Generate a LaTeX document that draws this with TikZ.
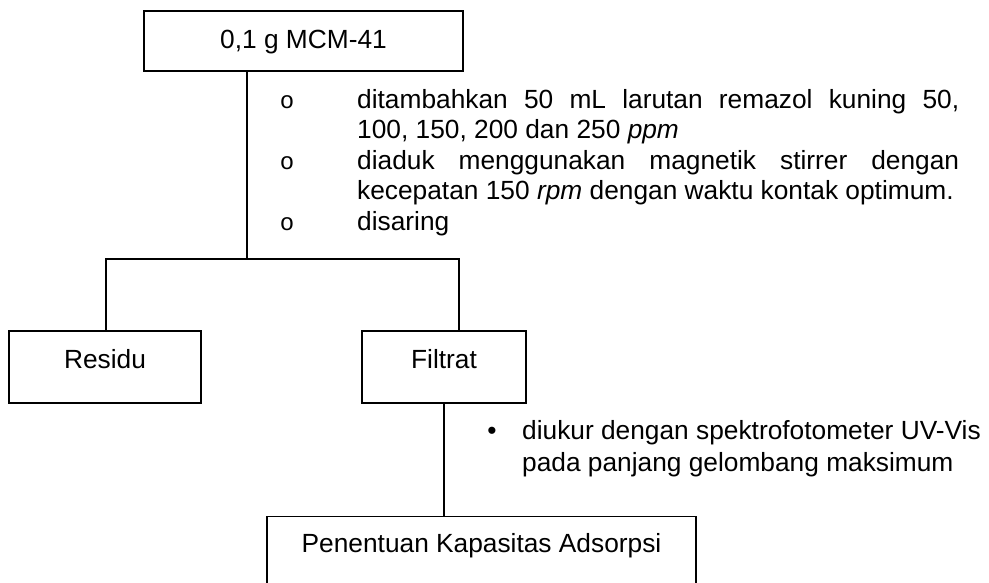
\documentclass[tikz,border=0pt]{standalone}
\usepackage{fontspec}
\setmainfont{Liberation Sans}
\setmonofont{Liberation Mono}
\begin{document}
\begin{tikzpicture}[x=1pt,y=-1pt,
  txt/.style={font=\fontsize{26.3}{30.5}\selectfont, inner sep=0pt},
  box/.style={draw, line width=1.3pt, inner sep=0pt},
  conn/.style={line width=1.3pt},
  item/.style={txt, anchor=north west, text width=602pt, align=justify},
  bul/.style={font=\ttfamily\fontsize{24}{24}\selectfont, inner sep=0pt, anchor=base}]
\clip (0,0) rectangle (989,582);
% boxes
\node[box, line width=1.8pt, minimum width=319pt, minimum height=60pt] (top) at (303.5,41) {};
\node[txt, anchor=base] (toplab) at (303.5,48.5) {0,1 g MCM-41};
\node[box, minimum width=192pt, minimum height=72pt] (res) at (105,367) {};
\node[txt, anchor=base] (reslab) at (105,368) {Residu};
\node[box, minimum width=164pt, minimum height=72pt] (fil) at (444,367) {};
\node[txt, anchor=base] (fillab) at (444,368) {Filtrat};
\node[box, minimum width=429pt, minimum height=90pt, anchor=north] (bot) at (481.5,516) {};
\node[txt, anchor=base] (botlab) at (481.5,552) {Penentuan Kapasitas Adsorpsi};
% connectors
\coordinate (j1) at (247,259);
\coordinate (j2) at (106,259);
\coordinate (j3) at (459,259);
\draw[conn, line width=1.8pt] (j1 |- top.south) -- (j1);
\draw[conn] (res.north -| j2) -- (j2) -- (j3) -- (j3 |- fil.north);
\draw[conn] (fil.south) -- (fil.south |- bot.north);
% list 1
\node[bul] (b1) at (287,108) {o};
\node[bul] (b2) at (287,169) {o};
\node[bul] (b3) at (287,230) {o};
\node[item] (i1) at (357,108-19.2) {ditambahkan 50 mL larutan remazol kuning 50,\linebreak 100, 150, 200 dan 250 \textit{ppm}};
\node[item] (i2) at (357,169-19.2) {diaduk menggunakan magnetik stirrer dengan\linebreak kecepatan 150 \textit{rpm} dengan waktu kontak optimum.};
\node[item] (i3) at (357,230-19.2) {disaring};
% list 2
\node[txt, anchor=base] (b4) at (492,439) {•};
\node[txt, anchor=north west, align=left, font=\fontsize{26.3}{32.5}\selectfont] (i4) at (522,439-19.2) {diukur dengan spektrofotometer UV-Vis\\pada panjang gelombang maksimum};
\end{tikzpicture}
\end{document}
